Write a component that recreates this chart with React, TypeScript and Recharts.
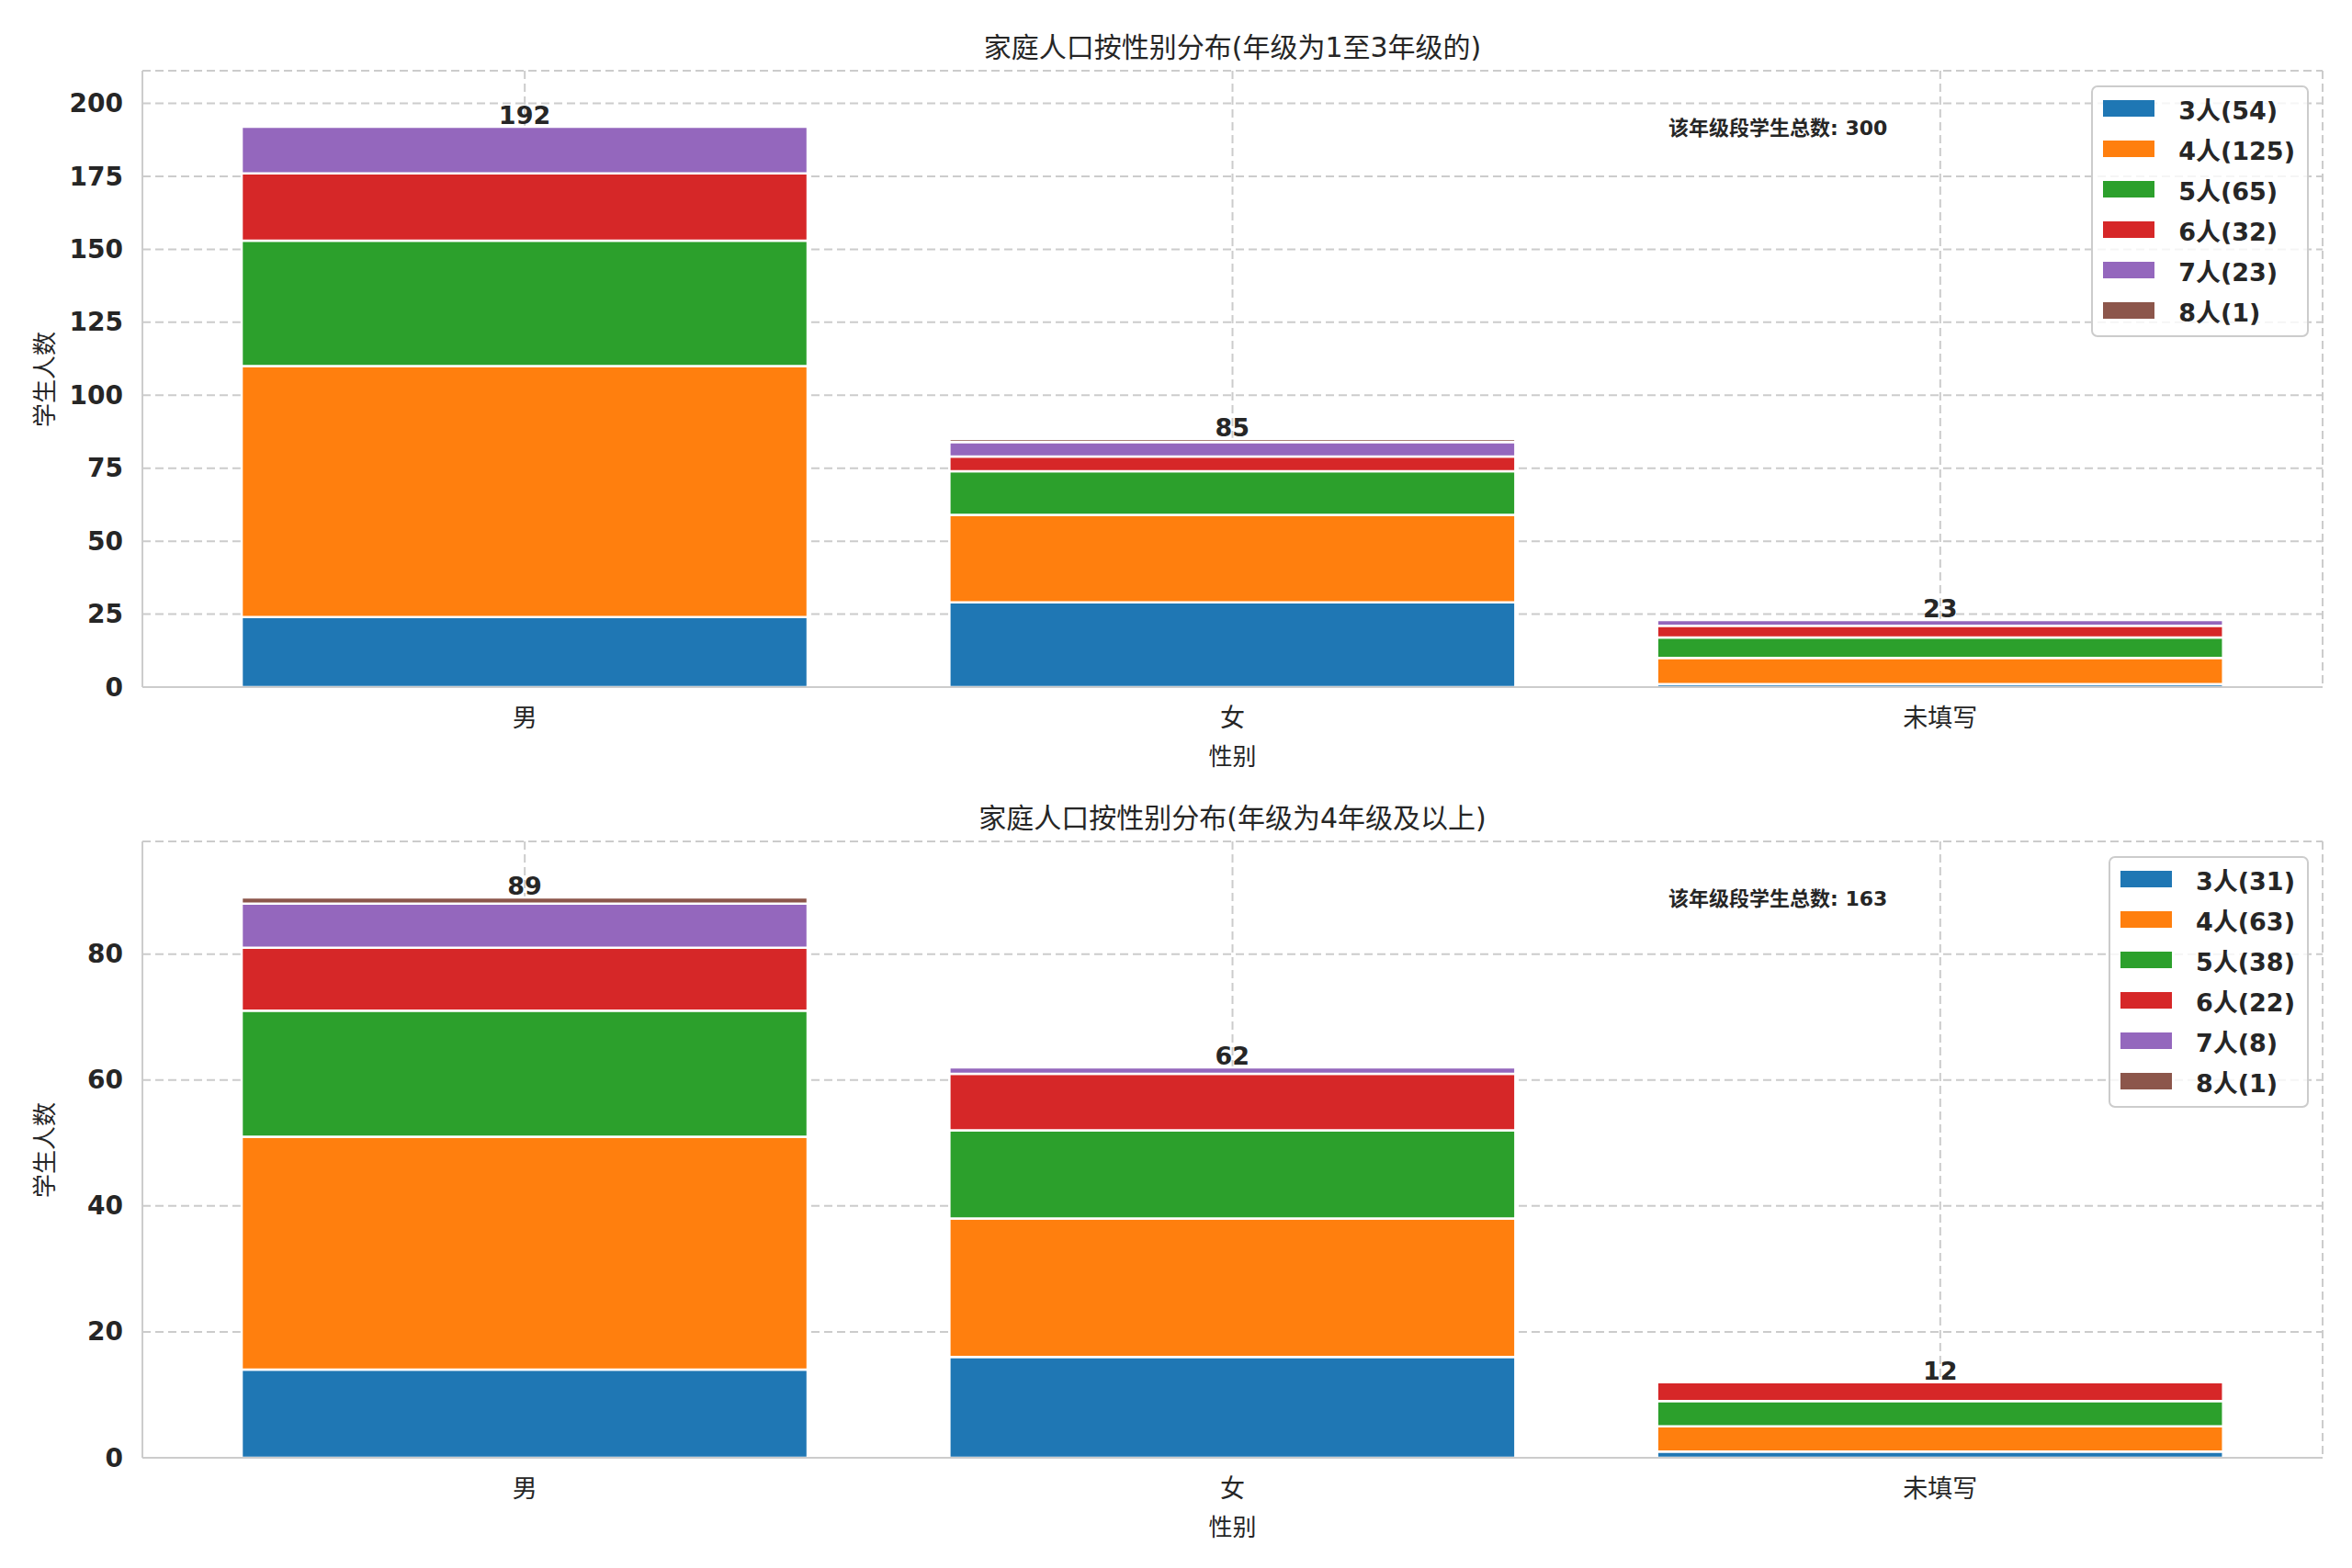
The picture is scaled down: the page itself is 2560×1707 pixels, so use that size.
import { BarChart, Bar, XAxis, YAxis, CartesianGrid, Legend, LabelList } from "recharts";

const categories = ["男", "女", "未填写"];
const familySizes = [3, 4, 5, 6, 7, 8];
const colors = ["#1f77b4", "#ff7f0e", "#2ca02c", "#d62728", "#9467bd", "#8c564b"];

// 1-3 年级
const low3 = [24, 29, 1];
const low4 = [86, 30, 9];
const low5 = [43, 15, 7];
const low6 = [23, 5, 4];
const low7 = [16, 5, 2];
const low8 = [0, 1, 0];

// 4 年级及以上
const high3 = [14, 16, 1];
const high4 = [37, 22, 4];
const high5 = [20, 14, 4];
const high6 = [10, 9, 3];
const high7 = [7, 1, 0];
const high8 = [1, 0, 0];

const lowTicks = [0, 25, 50, 75, 100, 125, 150, 175, 200];
const highTicks = [0, 20, 40, 60, 80];

const W = 2560;
const H = 853;
const PLOT_LEFT = 155;
const PLOT_RIGHT = 2528;
const PLOT_TOP = 77;
const PLOT_BOTTOM = 748;
const X_AXIS_H = 80;
const Y_AXIS_W = 100;
const GREY = "#cccccc";
const INK = "#262626";
const FONT = '"DejaVu Sans", "Noto Sans CJK SC", sans-serif';

const sum = (a: number[]) => a.reduce((s, v) => s + v, 0);

const buildRows = (series: number[][]) =>
    categories.map((sex, i) => {
        const row: any = { sex, total: 0, topKey: "" };
        series.forEach((s, k) => {
            const key = "s" + familySizes[k];
            row[key] = s[i];
            row.total += s[i];
            if (s[i] > 0) row.topKey = key;
        });
        return row;
    });

const XTick = ({ x, y, payload }: any) => (
    <text x={x} y={y + 33} textAnchor="middle" dominantBaseline="central"
        fontSize={27} fill={INK} fontFamily={FONT}>
        {payload.value}
    </text>
);

const YTick = ({ x, y, payload }: any) => (
    <text x={x - 21} y={y} textAnchor="end" dominantBaseline="central"
        fontSize={28} fontWeight="bold" fill={INK} fontFamily={FONT}>
        {payload.value}
    </text>
);

const Panel = ({ top, title, series, ticks }: any) => {
    const rows = buildRows(series);
    const grand = rows.reduce((a: number, r: any) => a + r.total, 0);
    const yMax = Math.max(...rows.map((r: any) => r.total)) * 1.1;
    const items = familySizes.map((n, k) => ({
        label: `${n}人(${sum(series[k])})`,
        color: colors[k]
    }));
    const midX = (PLOT_LEFT + PLOT_RIGHT) / 2;

    // total above the highest non-empty segment of each bar
    const totalLabel = (key: string) => (props: any) => {
        const { x, y, width, value } = props;
        const row = rows.find((r: any) => r.sex === value);
        if (!row || row.topKey !== key) return null;
        return (
            <text x={x + width / 2} y={y - 3} textAnchor="middle"
                fontSize={27} fontWeight="bold" fill={INK} fontFamily={FONT}>
                {row.total}
            </text>
        );
    };

    const legendBox = () => (
        <div style={{
            background: "rgba(255,255,255,0.8)",
            border: `2px solid ${GREY}`,
            borderRadius: 7,
            padding: "1px 13px 5px 11px",
            fontFamily: FONT
        }}>
            {items.map((it) => (
                <div key={it.label} style={{ display: "flex", alignItems: "center", height: 44 }}>
                    <div style={{ width: 56, height: 18, background: it.color, marginRight: 26 }} />
                    <span style={{ fontSize: 27, fontWeight: "bold", color: INK, whiteSpace: "nowrap" }}>
                        {it.label}
                    </span>
                </div>
            ))}
        </div>
    );

    return (
        <div style={{ position: "absolute", left: 0, top, width: W, height: H }}>
            <BarChart
                width={W}
                height={H}
                data={rows}
                barCategoryGap="10%"
                margin={{
                    top: PLOT_TOP,
                    right: W - PLOT_RIGHT,
                    bottom: H - PLOT_BOTTOM - X_AXIS_H,
                    left: PLOT_LEFT - Y_AXIS_W
                }}
            >
                <CartesianGrid stroke={GREY} strokeDasharray="9 5" strokeWidth={2} />
                <XAxis dataKey="sex" height={X_AXIS_H} padding={{ left: 31, right: 31 }}
                    interval={0} tickLine={false} tickSize={0} tickMargin={0}
                    axisLine={{ stroke: GREY, strokeWidth: 2 }} tick={<XTick />} />
                <XAxis xAxisId="top" orientation="top" dataKey="sex" height={0}
                    padding={{ left: 31, right: 31 }} tick={false} tickLine={false}
                    axisLine={{ stroke: GREY, strokeWidth: 2 }} />
                <YAxis domain={[0, yMax]} ticks={ticks} width={Y_AXIS_W}
                    tickLine={false} tickSize={0} tickMargin={0}
                    axisLine={{ stroke: GREY, strokeWidth: 2 }} tick={<YTick />} />
                <YAxis yAxisId="right" orientation="right" domain={[0, yMax]} width={0}
                    tick={false} tickLine={false} axisLine={{ stroke: GREY, strokeWidth: 2 }} />
                {familySizes.map((n, k) => (
                    <Bar key={n} dataKey={"s" + n} stackId="a" fill={colors[k]}
                        stroke="#ffffff" strokeWidth={2.5} isAnimationActive={false}>
                        <LabelList dataKey="sex" content={totalLabel("s" + n)} />
                    </Bar>
                ))}
                <Legend layout="vertical" align="center" verticalAlign="middle"
                    content={legendBox}
                    wrapperStyle={{ top: 93, right: W - 2513, left: "auto", bottom: "auto", width: "auto", height: "auto" }} />
            </BarChart>

            <div style={{
                position: "absolute", left: midX, top: 49, transform: "translate(-50%, -50%)",
                fontSize: 30, color: INK, fontFamily: FONT, whiteSpace: "nowrap"
            }}>
                {title}
            </div>
            <div style={{
                position: "absolute", left: 1816, top: 137, transform: "translateY(-50%)",
                fontSize: 22, fontWeight: "bold", color: INK, fontFamily: FONT, whiteSpace: "nowrap"
            }}>
                该年级段学生总数: {grand}
            </div>
            <div style={{
                position: "absolute", left: midX, top: 821, transform: "translate(-50%, -50%)",
                fontSize: 26, color: INK, fontFamily: FONT, whiteSpace: "nowrap"
            }}>
                性别
            </div>
            <div style={{
                position: "absolute", left: 46, top: (PLOT_TOP + PLOT_BOTTOM) / 2,
                transform: "translate(-50%, -50%) rotate(-90deg)",
                fontSize: 26, color: INK, fontFamily: FONT, whiteSpace: "nowrap"
            }}>
                学生人数
            </div>
        </div>
    );
};

export default function App() {
    return (
        <div style={{ position: "absolute", left: 0, top: 0, width: W, height: 1707, background: "#ffffff" }}>
            <Panel top={0} title="家庭人口按性别分布(年级为1至3年级的)"
                series={[low3, low4, low5, low6, low7, low8]} ticks={lowTicks} />
            <Panel top={839} title="家庭人口按性别分布(年级为4年级及以上)"
                series={[high3, high4, high5, high6, high7, high8]} ticks={highTicks} />
        </div>
    );
}
